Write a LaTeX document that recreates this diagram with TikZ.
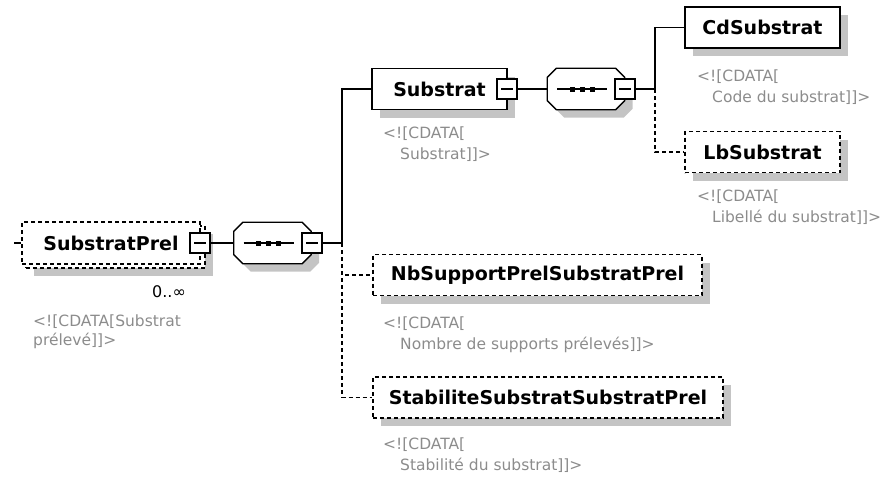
\documentclass[tikz,border=0pt]{standalone}
\usepackage{fontspec}
\setmainfont{DejaVu Sans}
\definecolor{XsdShadow}{RGB}{196,196,196}
\definecolor{XsdNote}{RGB}{140,140,140}
\usetikzlibrary{shadows, calc}

% octagon of a sequence compositor, with its shadow
\newcommand\seqshape[1]{%
  \fill[XsdShadow]
    ($(#1.north west)+(17,8)$) -- ($(#1.north east)+(-1,8)$) --
    ($(#1.north east)+(8,17)$) -- ($(#1.south east)+(8,-1)$) --
    ($(#1.south east)+(-1,8)$) -- ($(#1.south west)+(17,8)$) --
    ($(#1.south west)+(8,-1)$) -- ($(#1.north west)+(8,17)$) -- cycle;
  \filldraw[fill=white, line width=1.3pt]
    ($(#1.north west)+(9,0)$) -- ($(#1.north east)+(-9,0)$) --
    ($(#1.north east)+(0,9)$) -- ($(#1.south east)+(0,-9)$) --
    ($(#1.south east)+(-9,0)$) -- ($(#1.south west)+(9,0)$) --
    ($(#1.south west)+(0,-9)$) -- ($(#1.north west)+(0,9)$) -- cycle;
  \draw[line width=1.3pt] ([xshift=-29pt]#1.center) -- ([xshift=21pt]#1.center);
  \foreach \d in {-14, -4, 6}
    \fill ([xshift=\d pt]#1.center) +(-2.5,-2.5) rectangle +(2.5,2.5);
}

\begin{document}
\begin{tikzpicture}[x=1pt, y=-1pt,
    xbox/.style={draw, line width=1.3pt, fill=white, minimum height=41pt, inner sep=0pt,
                 font=\fontsize{19}{22}\selectfont\bfseries},
    shade/.style={drop shadow={shadow xshift=8pt, shadow yshift=-8pt, opacity=1, fill=XsdShadow}},
    dashline/.style={dash pattern=on 4pt off 3pt},
    elem/.style={xbox, shade},
    opt/.style={elem, dashline},
    seq/.style={minimum width=77pt, minimum height=41pt, inner sep=0pt},
    minus/.style={draw, line width=1.1pt, fill=white, minimum size=20pt, inner sep=0pt,
                  path picture={\draw[line width=1.1pt]
                    ([xshift=4pt]path picture bounding box.west) --
                    ([xshift=-4pt]path picture bounding box.east);}},
    note/.style={anchor=north west, inner sep=0pt, align=left, text=XsdNote,
                 font=\fontsize{15.5}{21}\selectfont},
    link/.style={line width=1.3pt},
    optlink/.style={link, dashline}
  ]
    \useasboundingbox (0,0) rectangle (884,477);

    % Root element, 0..unbounded
    \node[opt, minimum width=179pt, minimum height=42pt] (prel-back) at (115.5, 247) {};
    \node[xbox, dashline, minimum width=178pt, minimum height=42pt] (prel) at (111, 243)
      {SubstratPrel};
    \node[minus] (prel-m) at (200, 243) {};
    \node[anchor=base, inner sep=0pt, font=\fontsize{16}{19}\selectfont] (prel-occ)
      at (169, 297) {0..∞};
    \node[note, font=\fontsize{15.5}{19}\selectfont] (prel-doc) at (33, 315)
      {<![CDATA[Substrat\\prélevé]]>};

    % First sequence
    \node[seq] (seq1) at (272.5, 243) {};
    \seqshape{seq1}
    \node[minus] (seq1-m) at (312, 243) {};
    \coordinate (bus1) at (342, 243);

    % Substrat
    \node[elem, minimum width=135pt] (sub) at (439.5, 89) {Substrat};
    \node[minus] (sub-m) at (507, 89) {};
    \node[note] (sub-doc) at (383, 127)
      {<![CDATA[\\\hspace*{17pt}Substrat]]>};

    % Second sequence
    \node[seq] (seq2) at (586, 89) {};
    \seqshape{seq2}
    \node[minus] (seq2-m) at (625, 89) {};
    \coordinate (bus2) at (655, 89);

    % Children of Substrat
    \node[elem, minimum width=155pt] (cd) at (762.5, 27.5) {CdSubstrat};
    \node[note] (cd-doc) at (697, 70)
      {<![CDATA[\\\hspace*{15pt}Code du substrat]]>};

    \node[opt, minimum width=155pt] (lb) at (762.5, 152) {LbSubstrat};
    \node[note] (lb-doc) at (697, 190)
      {<![CDATA[\\\hspace*{15pt}Libellé du substrat]]>};

    % Other children of SubstratPrel
    \node[opt, minimum width=329pt] (nb) at (537.5, 275) {NbSupportPrelSubstratPrel};
    \node[note] (nb-doc) at (383, 317)
      {<![CDATA[\\\hspace*{17pt}Nombre de supports prélevés]]>};

    \node[opt, minimum width=350pt] (stab) at (548, 397.5) {StabiliteSubstratSubstratPrel};
    \node[note] (stab-doc) at (383, 438)
      {<![CDATA[\\\hspace*{17pt}Stabilité du substrat]]>};

    % Connectors
    \draw[link] ([xshift=-7pt]prel.west) -- (prel.west);
    \draw[link] (prel-m) -- (seq1);
    \draw[link] (seq1-m) -- (bus1);
    \draw[link] (bus1) |- (sub.west);
    \draw[optlink] (bus1) |- (nb.west);
    \draw[optlink] (bus1) |- (stab.west);
    \draw[link] (sub-m) -- (seq2);
    \draw[link] (seq2-m) -- (bus2);
    \draw[link] (bus2) |- (cd.west);
    \draw[optlink] (bus2) |- (lb.west);
  \end{tikzpicture}
\end{document}
